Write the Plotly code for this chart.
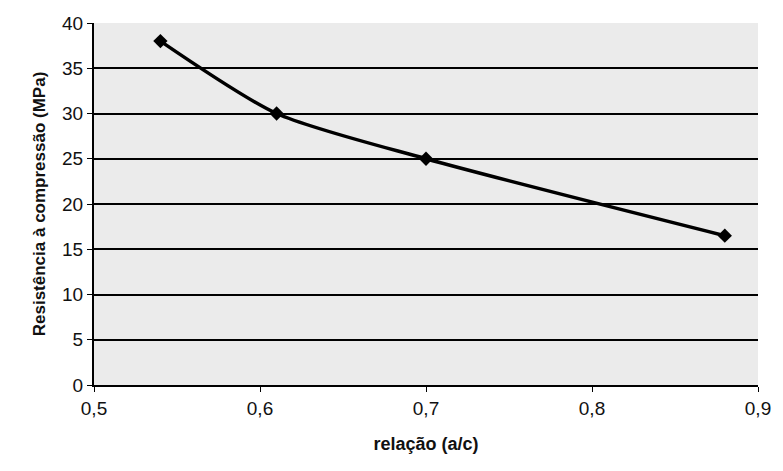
import plotly.graph_objects as go

relacao_ac = [0.54, 0.61, 0.70, 0.88]
resistencia = [38.0, 30.0, 25.0, 16.5]
x_ticks = [0.5, 0.6, 0.7, 0.8, 0.9]
x_tick_labels = ["0,5", "0,6", "0,7", "0,8", "0,9"]
y_ticks = [0, 5, 10, 15, 20, 25, 30, 35, 40]

fig = go.Figure()
fig.add_trace(go.Scatter(
    x=relacao_ac, y=resistencia, mode="lines+markers",
    line=dict(color="black", width=3.5, shape="spline", smoothing=0.7),
    marker=dict(symbol="diamond", size=11, color="black"),
    showlegend=False,
))

font = dict(family="Liberation Sans, Arial, sans-serif", color="#111")
fig.update_layout(
    width=783, height=471,
    margin=dict(l=94, r=18, t=23, b=86),
    paper_bgcolor="white",
    plot_bgcolor="#ebebeb",
    font=dict(**font, size=18),
    xaxis=dict(
        range=[0.5, 0.9], tickvals=x_ticks, ticktext=x_tick_labels,
        showgrid=False, zeroline=False,
        showline=True, linecolor="black", linewidth=2, mirror=False,
        ticks="outside", ticklen=5, tickcolor="black",
        tickfont=dict(size=19),
        title=dict(text="<b>relação (a/c)</b>", font=dict(size=18), standoff=20),
    ),
    yaxis=dict(
        range=[0, 40], tickvals=y_ticks,
        showgrid=True, gridcolor="black", gridwidth=1.5, zeroline=False,
        showline=True, linecolor="black", linewidth=2,
        ticks="outside", ticklen=5, tickcolor="black",
        tickfont=dict(size=19),
        title=dict(text="<b>Resistência à compressão (MPa)</b>", font=dict(size=17), standoff=12),
    ),
)
fig.write_html("out.html")
